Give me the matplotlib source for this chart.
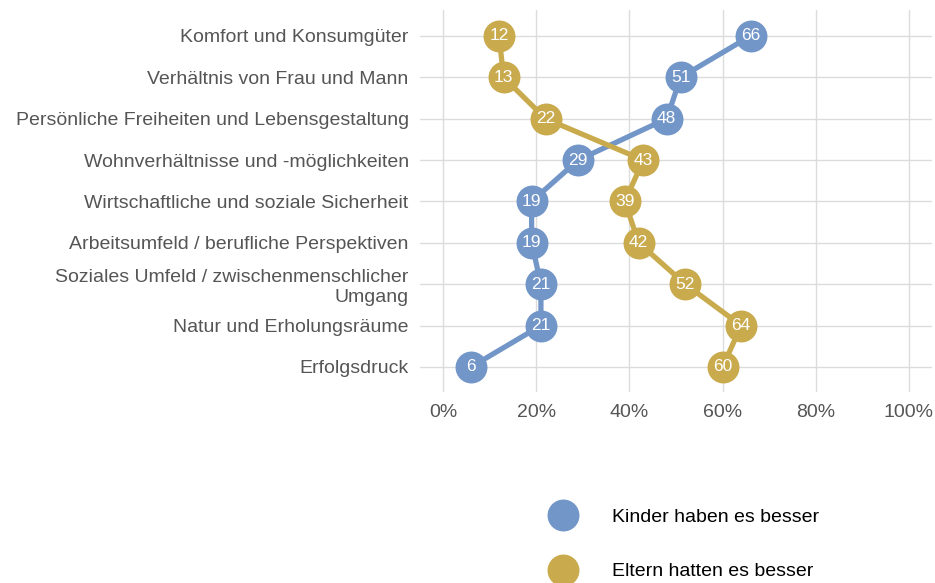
import matplotlib
matplotlib.use("Agg")
import matplotlib.pyplot as plt
from matplotlib.lines import Line2D

plt.rcParams['font.family'] = ['Liberation Sans', 'DejaVu Sans']

categories = [
    "Komfort und Konsumgüter",
    "Verhältnis von Frau und Mann",
    "Persönliche Freiheiten und Lebensgestaltung",
    "Wohnverhältnisse und -möglichkeiten",
    "Wirtschaftliche und soziale Sicherheit",
    "Arbeitsumfeld / berufliche Perspektiven",
    "Soziales Umfeld / zwischenmenschlicher\nUmgang",
    "Natur und Erholungsräume",
    "Erfolgsdruck",
]
kinder = [66, 51, 48, 29, 19, 19, 21, 21, 6]
eltern = [12, 13, 22, 43, 39, 42, 52, 64, 60]
series_names = ["Kinder haben es besser", "Eltern hatten es besser"]
colors = ["#7396c9", "#c9ab4e"]
xticks = [0, 20, 40, 60, 80, 100]

fig = plt.figure(figsize=(9.35, 5.83), dpi=100)
ax = fig.add_axes([0.449, 0.328, 0.548, 0.655])

ypos = list(range(len(categories)))
for vals, col in zip([kinder, eltern], colors):
    ax.plot(vals, ypos, color=col, lw=3.8, zorder=3, solid_capstyle='round')
    ax.plot(vals, ypos, 'o', color=col, markersize=23, markeredgewidth=0, zorder=4)
    for v, y in zip(vals, ypos):
        ax.text(v, y, str(v), color='white', ha='center', va='center',
                fontsize=12.5, zorder=5)

ax.set_xlim(-5, 105)
ax.set_ylim(len(categories) - 0.4, -0.63)
ax.set_yticks(ypos)
ax.set_yticklabels(categories, fontsize=14, color='#555555', multialignment='right')
ax.set_xticks(xticks)
ax.set_xticklabels([f"{t}%" for t in xticks], fontsize=14, color='#555555')
ax.tick_params(length=0, pad=8)
ax.tick_params(axis='x', pad=9)
ax.grid(True, color='#dcdcdc', lw=1)
ax.set_axisbelow(True)
for s in ax.spines.values():
    s.set_visible(False)

handles = [Line2D([], [], marker='o', ls='', markersize=23, markeredgewidth=0, color=c)
           for c in colors]
fig.legend(handles, series_names, loc='upper left', bbox_to_anchor=(0.573, 0.141),
           frameon=False, fontsize=14, handletextpad=1.5, labelspacing=1.88,
           borderaxespad=0)

fig.savefig("out.png", dpi=100)
